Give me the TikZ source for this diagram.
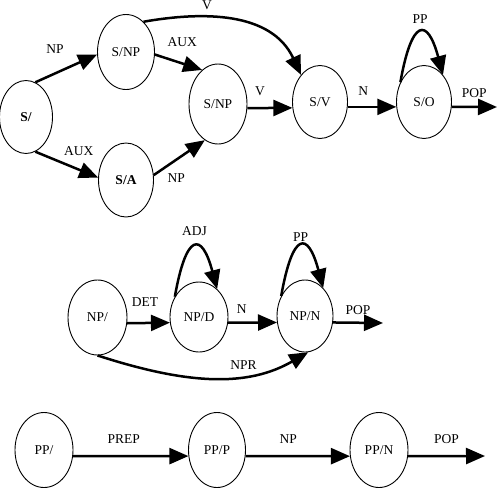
\documentclass[tikz,border=0pt]{standalone}
\usepackage{fontspec}
\setmainfont{Liberation Serif}
\usetikzlibrary{arrows.meta, shapes.geometric}

\begin{document}
\begin{tikzpicture}[x=1pt, y=1pt, font=\fontsize{13.5}{15}\selectfont,
	estado/.style={ellipse, draw, line width=0.9pt, minimum width=55pt,
		minimum height=73pt, inner sep=0pt},
	flecha/.style={-{Triangle[length=19pt, width=16pt]}, line width=2.5pt},
	etiq/.style={inner sep=1pt}]
	\useasboundingbox (0,0) rectangle (497,-501);
	% red S
	\node[estado, minimum width=53pt] (s) at (26,-117) {\textbf{S/}};
	\node[estado, minimum width=57pt, minimum height=75pt] (snp) at (126,-52) {S/NP};
	\node[estado, minimum height=74pt] (sa) at (126,-180) {\textbf{S/A}};
	\node[estado, minimum width=58pt, minimum height=80pt] (snpb) at (218,-104) {S/NP};
	\node[estado] (sv) at (320,-102) {S/V};
	\node[estado] (so) at (424,-102) {S/O};
	\coordinate (fin1) at (497,-107);
	\draw[flecha] (s.75) -- (snp.185) node[etiq, pos=0.32, above=18pt] {NP};
	\draw[flecha] (s.-75) -- (sa.175) node[etiq, pos=0.69, above=12pt] {AUX};
	\draw[flecha] (snp.-5) -- (snpb.115) node[etiq, pos=0.58, above=15pt] {AUX};
	\draw[flecha] (sa.10) -- (snpb.250) node[etiq, pos=0.44, below=12pt] {NP};
	\draw[flecha] (snpb.-8) -- (sv.192) node[etiq, pos=0.28, above=10pt] {V};
	\draw[flecha] (snp.60) .. controls +(10:60) and +(115:70) .. (sv.125)
		node[etiq, pos=0.35, above=5pt] {V};
	\draw[flecha] (sv.-10) -- (so.190) node[etiq, pos=0.32, above=9pt] {N};
	\draw[flecha] (so.140) .. controls +(80:65) and +(105:60) .. (so.55)
		node[etiq, midway, above=7pt] {PP};
	\draw[flecha] (so.-10) -- (fin1) node[etiq, midway, above=7pt] {POP};
	% red NP
	\node[estado, minimum width=59pt, minimum height=75pt] (np) at (97.5,-317.5) {NP/};
	\node[estado, minimum width=58pt, minimum height=70pt] (npd) at (199,-317) {NP/D};
	\node[estado, minimum width=56pt, minimum height=72pt] (npn) at (305,-316) {NP/N};
	\coordinate (fin2) at (383,-323);
	\draw[flecha] (np.-11) -- (npd.191) node[etiq, pos=0.42, above=14pt] {DET};
	\draw[flecha] (npd.-11) -- (npn.193) node[etiq, pos=0.28, above=7pt] {N};
	\draw[flecha] (npn.-13) -- (fin2) node[etiq, midway, above=6pt] {POP};
	\draw[flecha] (npd.140) .. controls +(80:65) and +(105:60) .. (npd.57)
		node[etiq, midway, above=9pt] {ADJ};
	\draw[flecha] (npn.140) .. controls +(80:65) and +(105:60) .. (npn.57)
		node[etiq, midway, above=3pt] {PP};
	\draw[flecha] (np.south) .. controls +(-18:95) and +(210:70) .. (npn.275)
		node[etiq, pos=0.65, above=4pt] {NPR};
	% red PP
	\node[estado, minimum width=58pt, minimum height=75pt] (pp) at (44,-450) {PP/};
	\node[estado, minimum width=57pt, minimum height=75pt] (ppp) at (217,-450) {PP/P};
	\node[estado, minimum width=58pt, minimum height=75pt] (ppn) at (379,-450) {PP/N};
	\coordinate (fin3) at (485,-456);
	\draw[flecha] (pp.-12) -- (ppp.192) node[etiq, pos=0.44, above=10pt] {PREP};
	\draw[flecha] (ppp.-12) -- (ppn.192) node[etiq, pos=0.41, above=10pt] {NP};
	\draw[flecha] (ppn.-12) -- (fin3) node[etiq, midway, above=10pt] {POP};
\end{tikzpicture}
\end{document}
